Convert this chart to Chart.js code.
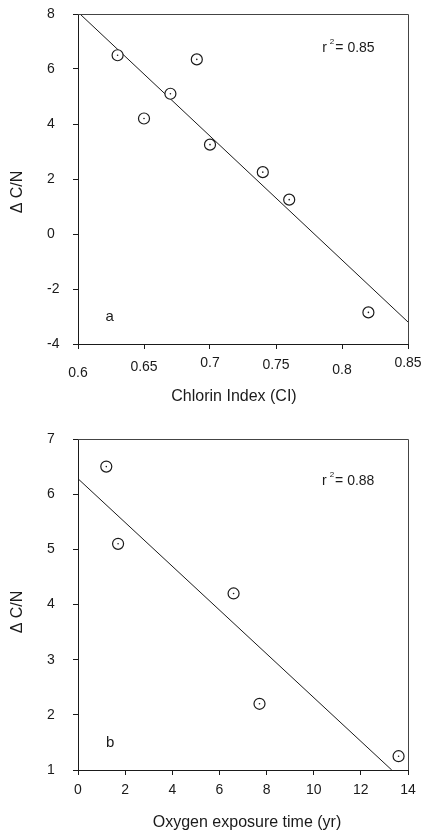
<!DOCTYPE html>
<html><head><meta charset="utf-8">
<script src="https://cdn.jsdelivr.net/npm/chart.js@4"></script>
<style>
html,body{margin:0;padding:0;background:#fff;width:423px;height:832px;overflow:hidden}
#wa{position:absolute;left:0;top:0;width:423px;height:420px}
#wb{position:absolute;left:0;top:420px;width:423px;height:412px}
</style></head><body>
<div id="wa"><canvas id="ca" width="423" height="420"></canvas></div>
<div id="wb"><canvas id="cb" width="423" height="412"></canvas></div>
<script>
// Panel a: Chlorin Index vs delta C/N
const chlorinIndex = [0.63, 0.65, 0.67, 0.69, 0.70, 0.74, 0.76, 0.82];
const dcnA = [6.5, 4.2, 5.1, 6.35, 3.25, 2.25, 1.25, -2.85];
const fitA_x = [0.6015, 0.85];
const fitA_y = [8, -3.2];
const xTicksA = [0.6, 0.65, 0.7, 0.75, 0.8, 0.85];
const yTicksA = [-4, -2, 0, 2, 4, 6, 8];

// Panel b: Oxygen exposure time vs delta C/N
const oxygenTime = [1.2, 1.7, 6.6, 7.7, 13.6];
const dcnB = [6.5, 5.1, 4.2, 2.2, 1.25];
const fitB_x = [0, 13.31];
const fitB_y = [6.28, 1.0];
const xTicksB = [0, 2, 4, 6, 8, 10, 12, 14];
const yTicksB = [1, 2, 3, 4, 5, 6, 7];

const FONT = "'Liberation Sans', Arial, sans-serif";
const INK = '#1a1a1a';

const pts = (xs, ys) => xs.map((x, i) => ({x, y: ys[i]}));

const annot = {
  id: 'annot',
  afterDraw(chart, args, o) {
    const ctx = chart.ctx, xs = chart.scales.x, ys = chart.scales.y;
    ctx.save();
    ctx.fillStyle = INK;
    // frame top & right
    const a = chart.chartArea;
    ctx.strokeStyle = '#444'; ctx.lineWidth = 1;
    ctx.beginPath();
    ctx.moveTo(a.left, a.top + 0.5); ctx.lineTo(a.right + 0.5, a.top + 0.5); ctx.lineTo(a.right + 0.5, a.bottom);
    ctx.stroke();
    // x tick labels with the slight per-label baseline shifts of the original
    if (o.tickShift) {
      ctx.font = '14px ' + FONT;
      ctx.textAlign = 'center'; ctx.textBaseline = 'middle';
      xs.ticks.forEach((t, i) => {
        ctx.fillText(String(+(+t.value).toFixed(2)), xs.getPixelForValue(t.value), a.bottom + o.tickShift[i]);
      });
    }
    // panel letter
    ctx.font = '15px ' + FONT;
    ctx.textAlign = 'center'; ctx.textBaseline = 'middle';
    ctx.fillText(o.letter, xs.getPixelForValue(o.letterPos[0]), ys.getPixelForValue(o.letterPos[1]));
    // r^2
    let px = xs.getPixelForValue(o.rPos[0]), py = ys.getPixelForValue(o.rPos[1]);
    ctx.textAlign = 'left'; ctx.textBaseline = 'alphabetic';
    ctx.font = '14px ' + FONT;
    ctx.fillText('r', px, py);
    px += ctx.measureText('r').width + 3;
    ctx.font = '8px ' + FONT;
    ctx.fillText('2', px, py - 8);
    px += ctx.measureText('2').width + 1;
    ctx.font = '14px ' + FONT;
    ctx.fillText('= ' + o.r2, px, py);
    // x title
    ctx.font = '16px ' + FONT;
    ctx.textAlign = 'center'; ctx.textBaseline = 'middle';
    ctx.fillText(o.xTitle, o.xTitlePos[0], o.xTitlePos[1]);
    // y title
    ctx.translate(o.yTitlePos[0], o.yTitlePos[1]);
    ctx.rotate(-Math.PI / 2);
    ctx.fillText('\u0394 C/N', 0, 0);
    ctx.restore();
  }
};

function makeChart(id, cfg) {
  return new Chart(document.getElementById(id), {
    data: {
      datasets: [
        {type: 'line', data: pts(cfg.fx, cfg.fy), borderColor: INK, borderWidth: 1, pointRadius: 0, fill: false, order: 3},
        {type: 'scatter', data: pts(cfg.xs, cfg.ys), pointStyle: 'circle', pointRadius: 5.5, pointBorderWidth: 1.2,
         pointBorderColor: INK, pointBackgroundColor: '#fff', order: 2},
        {type: 'scatter', data: pts(cfg.xs, cfg.ys), pointStyle: 'circle', pointRadius: 0.8, pointBorderWidth: 0,
         pointBackgroundColor: INK, order: 1}
      ]
    },
    options: {
      responsive: false, animation: false, devicePixelRatio: 1,
      layout: {padding: {left: 47, top: cfg.top, right: 15, bottom: 0}},
      plugins: {legend: {display: false}, tooltip: {enabled: false}, annot: cfg.annot},
      scales: {
        x: {
          type: 'linear', min: cfg.xmin, max: cfg.xmax,
          afterBuildTicks: s => { s.ticks = cfg.xt.map(v => ({value: v})); },
          afterFit: s => { s.height = cfg.xh; },
          grid: {drawOnChartArea: false, tickLength: 5, color: INK, lineWidth: 1},
          border: {color: INK, width: 1},
          ticks: {display: cfg.xTickDisplay, color: INK, font: {family: FONT, size: 14}, padding: cfg.xpad, maxRotation: 0,
                  callback: v => String(+(+v).toFixed(2))}
        },
        y: {
          type: 'linear', min: cfg.ymin, max: cfg.ymax,
          afterBuildTicks: s => { s.ticks = cfg.yt.map(v => ({value: v})); },
          afterFit: s => { s.width = 31; },
          grid: {drawOnChartArea: false, tickLength: 5, color: INK, lineWidth: 1},
          border: {color: INK, width: 1},
          ticks: {color: INK, font: {family: FONT, size: 14}, crossAlign: 'far', padding: 4,
                  callback: v => String(v)}
        }
      }
    },
    plugins: [annot]
  });
}

makeChart('ca', {
  xs: chlorinIndex, ys: dcnA, fx: fitA_x, fy: fitA_y, xt: xTicksA, yt: yTicksA,
  xmin: 0.6, xmax: 0.85, ymin: -4, ymax: 8, top: 14, xh: 76, xpad: 12, xTickDisplay: false,
  annot: {letter: 'a', letterPos: [0.624, -3], rPos: [0.785, 6.63], r2: '0.85',
          tickShift: [29, 23, 19, 21, 26, 19],
          xTitle: 'Chlorin Index (CI)', xTitlePos: [234, 397], yTitlePos: [18, 192]}
});
makeChart('cb', {
  xs: oxygenTime, ys: dcnB, fx: fitB_x, fy: fitB_y, xt: xTicksB, yt: yTicksB,
  xmin: 0, xmax: 14, ymin: 1, ymax: 7, top: 19, xh: 62, xpad: 7, xTickDisplay: true,
  annot: {letter: 'b', letterPos: [1.36, 1.5], rPos: [10.35, 6.17], r2: '0.88',
          xTitle: 'Oxygen exposure time (yr)', xTitlePos: [247, 403], yTitlePos: [18, 192]}
});
</script>
</body></html>
